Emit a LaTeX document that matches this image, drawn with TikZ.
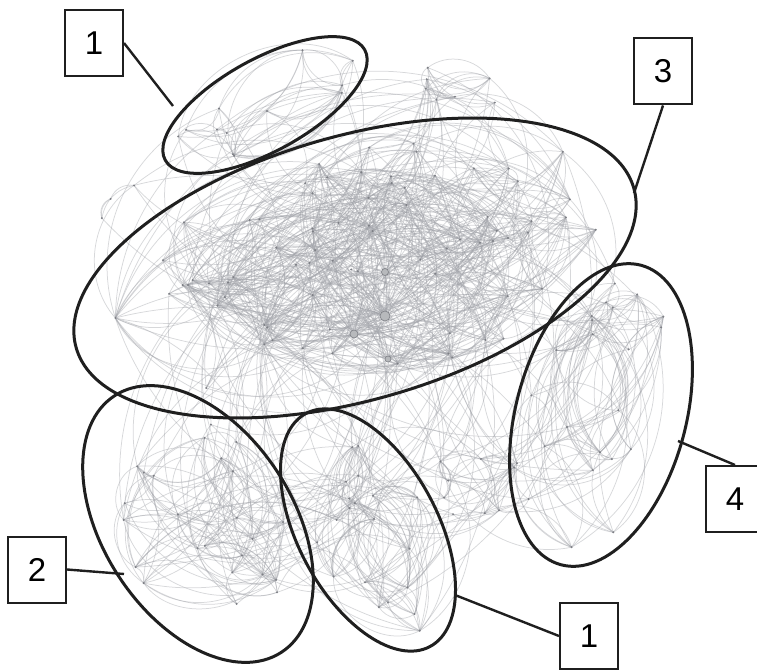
\documentclass[tikz,border=0pt]{standalone}
\usepackage{fontspec}
\setmainfont{Liberation Sans}
\usetikzlibrary{calc}
\definecolor{edgegray}{RGB}{160,162,168}
\definecolor{vertgray}{RGB}{125,127,133}

% random vertices inside a rotated ellipse: name, n, cx, cy, rx, ry, angle
\newcommand\clusterverts[7]{%
  \begin{scope}[shift={(#3,#4)},rotate=#7]
    \foreach \k in {1,...,#2}{
      \pgfmathsetmacro{\rad}{0.97*sqrt(rnd)}
      \pgfmathsetmacro{\ang}{360*rnd}
      \coordinate (#1\k) at ({\rad*#5*cos(\ang)},{\rad*#6*sin(\ang)});
    }
  \end{scope}}
% random arcs inside one group: name, n, edges
\newcommand\clusterlinks[3]{%
  \foreach \e in {1,...,#3}{
    \pgfmathtruncatemacro{\a}{random(1,#2)}
    \pgfmathtruncatemacro{\b}{mod(\a+random(1,#2-1)-1,#2)+1}
    \pgfmathsetmacro{\bnd}{(rnd<0.5 ? -1 : 1)*(32+28*rnd)}
    \draw[edge] (#1\a) to[bend left=\bnd] (#1\b);
  }}
% random arcs between two groups: name a, n a, name b, n b, edges
\newcommand\bridgelinks[5]{%
  \foreach \e in {1,...,#5}{
    \pgfmathtruncatemacro{\a}{random(1,#2)}
    \pgfmathtruncatemacro{\b}{random(1,#4)}
    \pgfmathsetmacro{\bnd}{(rnd<0.5 ? -1 : 1)*(28+25*rnd)}
    \draw[edge] (#1\a) to[bend left=\bnd] (#3\b);
  }}
\newcommand\clustermarks[2]{\foreach \k in {1,...,#2}{\fill[vert] (#1\k) circle (1.1);}}

\begin{document}
\begin{tikzpicture}[x=1pt,y=-1pt,
  edge/.style={draw=edgegray,line width=0.75pt,opacity=0.42},
  vert/.style={fill=vertgray},
  hub/.style={fill=vertgray!55,draw=vertgray,line width=0.6pt},
  group/.style={draw=black!88,line width=3pt},
  tag/.style={draw=black!88,fill=white,line width=2pt,minimum width=58pt,
    minimum height=66pt,inner sep=0pt,font=\fontsize{33}{36}\selectfont},
  lead/.style={draw=black!88,line width=2.4pt}]
  \useasboundingbox (0,0) rectangle (757,671);
  \clip (0,0) rectangle (757,671);
  \pgfmathsetseed{4242}

  % vertices of the network
  \clusterverts{m}{75}{360}{268}{265}{125}{16}
  \clusterverts{a}{12}{265}{105}{105}{40}{29}
  \clusterverts{b}{24}{198}{524}{142}{85}{-57}
  \clusterverts{c}{20}{368}{530}{122}{63}{-62}
  \clusterverts{d}{22}{601}{415}{145}{78}{75}
  \clusterverts{r}{9}{470}{478}{55}{40}{0}
  \clusterverts{t}{7}{462}{88}{70}{22}{-5}
  \clusterverts{w}{3}{118}{200}{30}{30}{0}
  \coordinate (h1) at (385,316);
  \coordinate (h2) at (354,334);
  \coordinate (h3) at (385,272);
  \coordinate (h4) at (388,359);

  % edges
  \clusterlinks{m}{75}{360}
  \clusterlinks{a}{12}{36}
  \clusterlinks{b}{24}{95}
  \clusterlinks{c}{20}{80}
  \clusterlinks{d}{22}{85}
  \clusterlinks{r}{9}{22}
  \clusterlinks{t}{7}{14}
  \clusterlinks{w}{3}{4}
  \bridgelinks{a}{12}{m}{75}{25}
  \bridgelinks{b}{24}{m}{75}{35}
  \bridgelinks{c}{20}{m}{75}{35}
  \bridgelinks{d}{22}{m}{75}{30}
  \bridgelinks{b}{24}{c}{20}{25}
  \bridgelinks{c}{20}{r}{9}{15}
  \bridgelinks{d}{22}{r}{9}{20}
  \bridgelinks{t}{7}{m}{75}{30}
  \bridgelinks{r}{9}{m}{75}{20}
  \bridgelinks{w}{3}{m}{75}{6}
  \foreach \h/\cnt in {h1/40,h2/25,h3/25,h4/18}{
    \foreach \e in {1,...,\cnt}{
      \pgfmathtruncatemacro{\b}{random(1,75)}
      \pgfmathsetmacro{\bnd}{(rnd<0.5 ? -1 : 1)*(25+25*rnd)}
      \draw[edge] (\h) to[bend left=\bnd] (m\b);
    }}

  % vertex marks
  \clustermarks{m}{75}
  \clustermarks{a}{12}
  \clustermarks{b}{24}
  \clustermarks{c}{20}
  \clustermarks{d}{22}
  \clustermarks{r}{9}
  \clustermarks{t}{7}
  \clustermarks{w}{3}
  \filldraw[hub] (h1) circle (5);
  \filldraw[hub] (h2) circle (4);
  \filldraw[hub] (h3) circle (3.5);
  \filldraw[hub] (h4) circle (3);

  % community outlines
  \draw[group,rotate around={29:(265,105)}] (265,105) ellipse [x radius=114, y radius=46];
  \draw[group,rotate around={16:(355,268)}] (355,268) ellipse [x radius=290, y radius=132];
  \draw[group,rotate around={75:(601,415)}] (601,415) ellipse [x radius=155, y radius=85];
  \draw[group,rotate around={-57:(198,524)}] (198,524) ellipse [x radius=153, y radius=95];
  \draw[group,rotate around={-62:(368,530)}] (368,530) ellipse [x radius=132, y radius=70];

  % labels
  \node[tag] (tagOneTop) at (94,43) {1};
  \node[tag] (tagThree) at (663,71.5) {3};
  \node[tag] (tagFour) at (735,499) {4};
  \node[tag] (tagTwo) at (37,569.5) {2};
  \node[tag] (tagOneLow) at (589,636) {1};
  \coordinate (tipOneTop) at (173,106);
  \coordinate (tipThree) at (634,193);
  \coordinate (tipFour) at (678,441);
  \coordinate (tipTwo) at (124,574);
  \coordinate (tipOneLow) at (455,595);
  \draw[lead] (tagOneTop.east) -- (tipOneTop);
  \draw[lead] (tagThree.south) -- (tipThree);
  \draw[lead] (tagFour.north) -- (tipFour);
  \draw[lead] (tagTwo.east) -- (tipTwo);
  \draw[lead] (tagOneLow.west) -- (tipOneLow);
\end{tikzpicture}
\end{document}
